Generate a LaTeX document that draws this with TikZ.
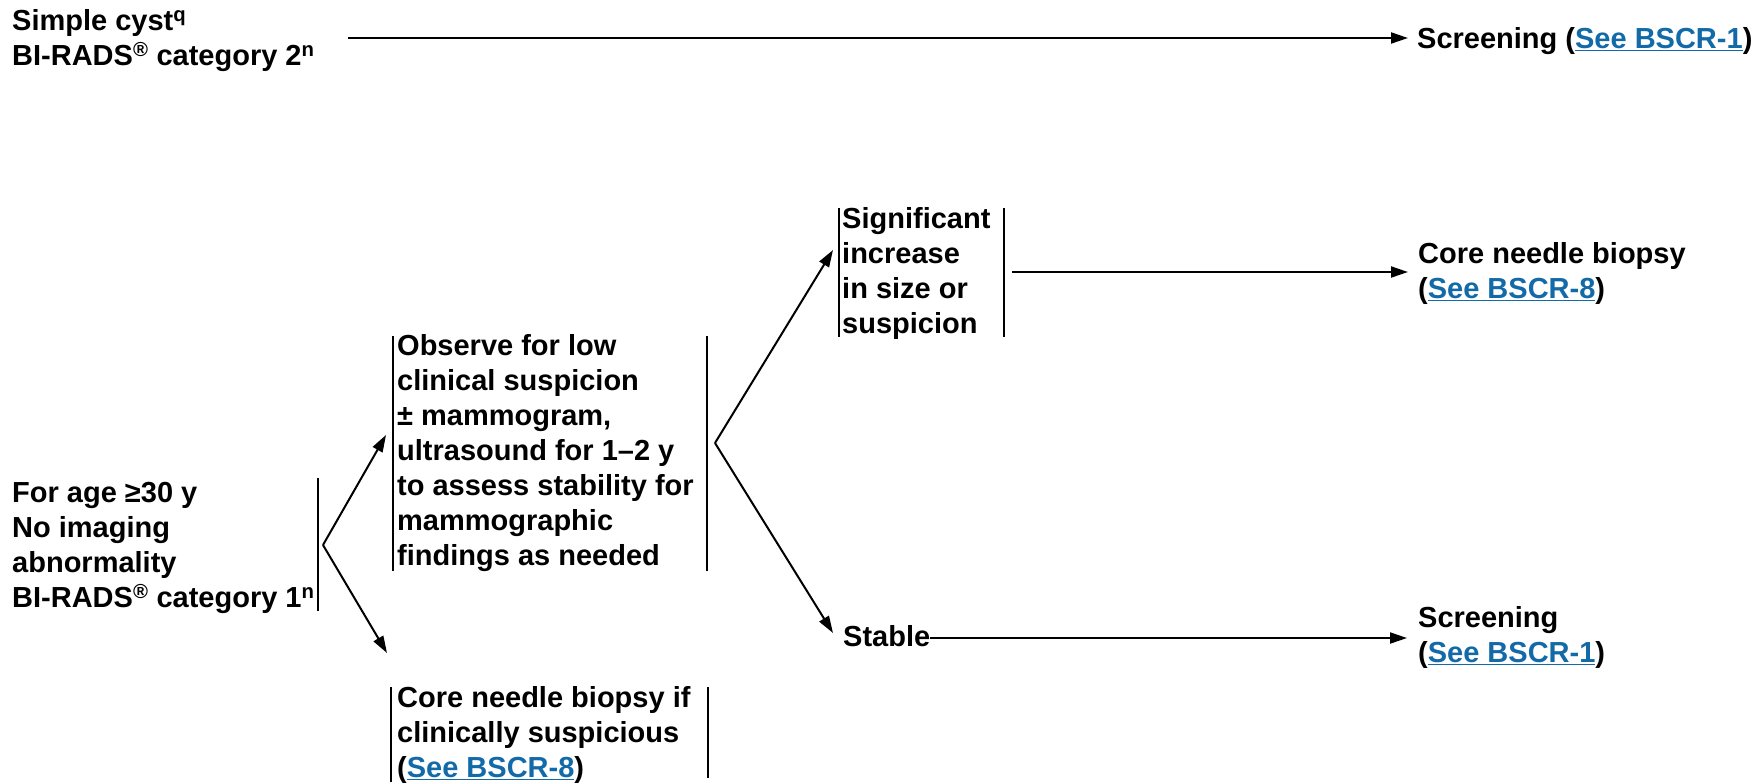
\documentclass[tikz,border=0pt]{standalone}
\usepackage{fontspec}
\setmainfont{Liberation Sans}
\usetikzlibrary{arrows.meta}
\definecolor{linkblue}{RGB}{18,106,168}
\newcommand{\lnk}[1]{\textcolor{linkblue}{\underline{#1}}}
\begin{document}
\begin{tikzpicture}[x=1pt,y=-1pt,
  txt/.style={font=\bfseries\fontsize{29}{35}\selectfont, inner sep=0pt, align=left, anchor=north west},
  bar/.style={line width=2pt},
  arr/.style={line width=2pt, -{Triangle[length=17pt,width=11pt]}}]
\useasboundingbox (0,0) rectangle (1762,782);

% text nodes
\node[txt] (simple) at (12,9) {Simple cyst\textsuperscript{q}\\BI-RADS\textsuperscript{®} category 2\textsuperscript{n}};
\node[txt] (screen1) at (1417,27) {Screening (\lnk{See BSCR-1})};
\node[txt] (age) at (12,482) {For age ≥30 y\\No imaging\\abnormality\\BI-RADS\textsuperscript{®} category 1\textsuperscript{n}};
\node[txt] (obs) at (397,334) {Observe for low\\clinical suspicion\\± mammogram,\\ultrasound for 1–2 y\\to assess stability for\\mammographic\\findings as needed};
\node[txt] (cnb) at (397,686) {Core needle biopsy if\\clinically suspicious\\(\lnk{See BSCR-8})};
\node[txt] (sig) at (842,207) {Significant\\increase\\in size or\\suspicion};
\node[txt] (cnb2) at (1418,242) {Core needle biopsy\\(\lnk{See BSCR-8})};
\node[txt] (stable) at (843,625) {Stable};
\node[txt] (screen2) at (1418,606) {Screening\\(\lnk{See BSCR-1})};

% bars
\coordinate (ageR1) at (318,478); \coordinate (ageR2) at (318,611);
\coordinate (obsL1) at (393,336); \coordinate (obsL2) at (393,571);
\coordinate (obsR1) at (707,336); \coordinate (obsR2) at (707,571);
\coordinate (cnbL1) at (391,687); \coordinate (cnbL2) at (391,782);
\coordinate (cnbR1) at (708,687); \coordinate (cnbR2) at (708,778);
\coordinate (sigL1) at (839,208); \coordinate (sigL2) at (839,337);
\coordinate (sigR1) at (1004,208); \coordinate (sigR2) at (1004,337);
\draw[bar] (ageR1) -- (ageR2);
\draw[bar] (obsL1) -- (obsL2);
\draw[bar] (obsR1) -- (obsR2);
\draw[bar] (cnbL1) -- (cnbL2);
\draw[bar] (cnbR1) -- (cnbR2);
\draw[bar] (sigL1) -- (sigL2);
\draw[bar] (sigR1) -- (sigR2);

% connectors
\coordinate (topS) at (348,38); \coordinate (topE) at (1408,38);
\draw[arr] (topS) -- (topE);

\coordinate (f1) at (323,545);
\coordinate (t1a) at (386,435); \coordinate (t1b) at (387,653);
\draw[arr] (f1) -- (t1a);
\draw[arr] (f1) -- (t1b);

\coordinate (f2) at (715,443);
\coordinate (t2a) at (833,250); \coordinate (t2b) at (833,633);
\draw[arr] (f2) -- (t2a);
\draw[arr] (f2) -- (t2b);

\coordinate (sigS) at (1012,272); \coordinate (sigE) at (1408,272);
\draw[arr] (sigS) -- (sigE);

\coordinate (stE) at (1407,638);
\draw[arr] (stable.east |- stE) -- (stE);
\end{tikzpicture}
\end{document}
